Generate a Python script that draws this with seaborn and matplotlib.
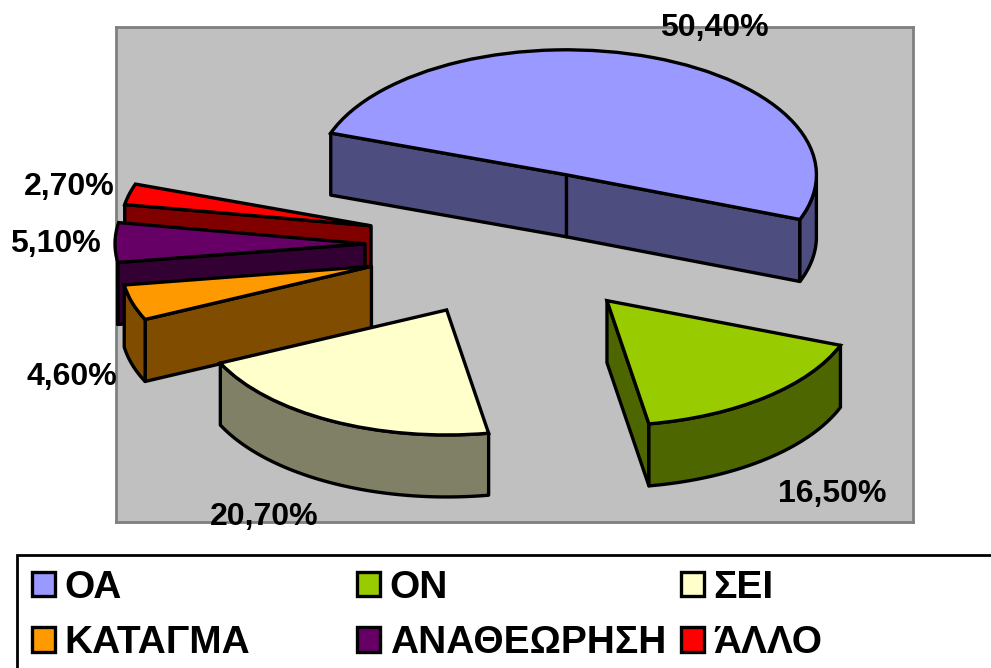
import numpy as np
import matplotlib
matplotlib.use("Agg")
import matplotlib.pyplot as plt
from matplotlib.patches import Polygon, Rectangle
import seaborn as sns

# data
categories = ["ΟΑ", "ΟΝ", "ΣΕΙ", "ΚΑΤΑΓΜΑ", "ΑΝΑΘΕΩΡΗΣΗ", "ΆΛΛΟ"]
values = [50.4, 16.5, 20.7, 4.6, 5.1, 2.7]
top_colors = ["#9999FF", "#99CC00", "#FFFFCC", "#FF9900", "#660066", "#FF0000"]
wall_colors = ["#4D4D80", "#4D6600", "#808066", "#804D00", "#330033", "#800000"]
explode = [0.595, 0.58, 0.59, 0.60, 0.60, 0.595]
label_pos = [(714, 28), (832, 494), (264, 517), (72, 377), (55, 244), (69, 187)]

W, H = 991, 668
CX, CY = 515, 244.6   # pie centre in pixels
RX, RY = 250, 125     # pixels for one data unit
DEPTH = 62 / RY
EDGE = 2.4

sns.set_theme(style="white")
plt.rcParams["font.family"] = ["Liberation Sans", "DejaVu Sans"]
plt.rcParams["font.weight"] = "bold"

fig = plt.figure(figsize=(W / 100, H / 100), dpi=100, facecolor="white")
left, right, top, bottom = 116, 913, 27, 522
ax = fig.add_axes([left / W, 1 - bottom / H, (right - left) / W, (bottom - top) / H])

wedges, _ = ax.pie(
    values,
    colors=top_colors,
    explode=explode,
    startangle=160.5,
    counterclock=False,
    radius=1,
    frame=True,
    wedgeprops=dict(edgecolor="black", linewidth=EDGE),
)

# pie() forces equal aspect, the 3D look needs a flattened ellipse
ax.set_aspect("auto")
ax.set_xlim((left - CX) / RX, (right - CX) / RX)
ax.set_ylim((CY - bottom) / RY, (CY - top) / RY)
ax.set_xticks([])
ax.set_yticks([])
ax.set_facecolor("#C0C0C0")
for s in ax.spines.values():
    s.set_color("#808080")
    s.set_linewidth(2)


def add_wall(pts, color, z):
    pts = np.array(pts)
    low = pts - [0, DEPTH]
    poly = np.vstack([pts, low[::-1]])
    ax.add_patch(Polygon(poly, closed=True, facecolor=color, edgecolor="black",
                         linewidth=EDGE, joinstyle="round", zorder=z))


# back slices first, so each one covers the wall of the one behind it
order = [0, 5, 4, 3, 2, 1]
for rank, i in enumerate(order):
    w = wedges[i]
    z = 2 + rank * 3
    c = np.array(w.center)
    a1, a2 = np.radians(w.theta1), np.radians(w.theta2)
    p1 = c + [np.cos(a1), np.sin(a1)]
    p2 = c + [np.cos(a2), np.sin(a2)]
    # cut faces, only if they turn towards the viewer
    if np.sin(a1 - np.pi / 2) < 0:
        add_wall([p1, c], wall_colors[i], z)
    if np.sin(a2 + np.pi / 2) < 0:
        add_wall([c, p2], wall_colors[i], z)
    # rim, only the part that faces the viewer
    t = np.linspace(a1, a2, 200)
    t = t[np.sin(t) <= 0.0]
    if len(t) > 1:
        add_wall(np.column_stack([c[0] + np.cos(t), c[1] + np.sin(t)]), wall_colors[i], z)
    w.set_zorder(z + 1)

# data labels
for v, (px, py) in zip(values, label_pos):
    txt = f"{v:.2f}".replace(".", ",") + "%"
    fig.text(px / W, 1 - py / H, txt, ha="center", va="center",
             fontsize=23, fontweight="bold", color="black")

# legend box runs off the right and bottom of the picture
fig.add_artist(Rectangle((17 / W, -0.02), 1.0, 1 - 555 / H + 0.02, transform=fig.transFigure,
                         facecolor="white", edgecolor="black", linewidth=2))

# one legend per column so the columns keep even spacing
for col, x in enumerate([20, 345, 669]):
    leg = fig.legend(
        [wedges[col], wedges[col + 3]],
        [categories[col], categories[col + 3]],
        loc="upper left",
        bbox_to_anchor=(x / W, 1 - 558 / H),
        frameon=False,
        fontsize=28,
        labelcolor="black",
        handlelength=0.6,
        handleheight=0.6,
        handletextpad=0.25,
        labelspacing=0.5,
        borderpad=0.3,
        borderaxespad=0,
    )
    for t in leg.get_texts():
        t.set_fontweight("bold")

fig.savefig("out.png", dpi=100)
